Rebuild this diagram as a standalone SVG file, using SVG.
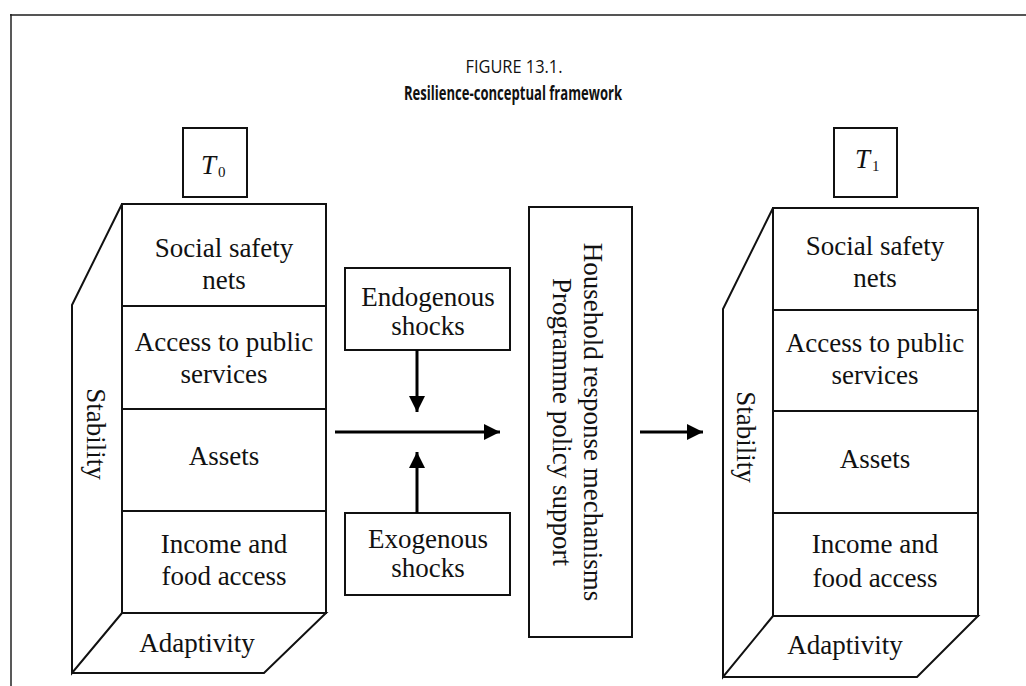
<svg xmlns="http://www.w3.org/2000/svg" width="1026" height="686" viewBox="0 0 1026 686">
<style>
.box{fill:none;stroke:#111;stroke-width:2}
.t{font-family:"Liberation Serif","Times New Roman",serif;font-size:27px;fill:#111;text-anchor:middle}
.ti{font-family:"Liberation Serif","Times New Roman",serif;font-style:italic;font-size:27px;fill:#111}
.sub{font-family:"Liberation Serif","Times New Roman",serif;font-size:15px;fill:#111}
.title{font-family:"Open Sans","Noto Sans",sans-serif;font-size:19px;fill:#111;text-anchor:middle}
.arr{stroke:#000;stroke-width:3;fill:none}
</style>
<defs>
<marker id="ah" markerUnits="userSpaceOnUse" markerWidth="16" markerHeight="16" refX="16" refY="8" orient="auto">
<path d="M0,0 L16,8 L0,16 z" fill="#000"/>
</marker>
</defs>
<g id="frame">
<line x1="10" y1="15" x2="1026" y2="15" stroke="#555" stroke-width="2"/>
<line x1="11" y1="14" x2="11" y2="686" stroke="#222" stroke-width="1.5"/>
</g>
<g id="title">
<text class="title" x="514" y="73" textLength="97" lengthAdjust="spacingAndGlyphs">FIGURE 13.1.</text>
<text class="title" x="513" y="100" font-weight="bold" textLength="218" lengthAdjust="spacingAndGlyphs">Resilience-conceptual framework</text>
</g>
<g id="t0">
<rect class="box" x="183" y="128" width="64" height="69"/>
<text class="ti" x="201" y="174">T</text><text class="sub" x="218" y="177">0</text>
</g>
<g id="stack-left">
<path class="box" d="M122,204 L72,305 L72,673 L122,613"/>
<path class="box" d="M122,613 L326,613 L264,673 L72,673"/>
<rect class="box" x="122" y="204" width="204" height="409"/>
<line class="box" x1="122" y1="306" x2="326" y2="306"/>
<line class="box" x1="122" y1="409" x2="326" y2="409"/>
<line class="box" x1="122" y1="511" x2="326" y2="511"/>
<text class="t" x="224" y="257">Social safety</text>
<text class="t" x="224" y="289">nets</text>
<text class="t" x="224" y="351">Access to public</text>
<text class="t" x="224" y="383">services</text>
<text class="t" x="224" y="465">Assets</text>
<text class="t" x="224" y="553">Income and</text>
<text class="t" x="224" y="585">food access</text>
<text class="t" x="197" y="652">Adaptivity</text>
<text class="t" transform="translate(87,434) rotate(90)">Stability</text>
</g>
<g id="endogenous">
<rect class="box" x="345" y="268" width="165" height="82"/>
<text class="t" x="428" y="306">Endogenous</text>
<text class="t" x="428" y="335">shocks</text>
</g>
<g id="exogenous">
<rect class="box" x="345" y="513" width="165" height="82"/>
<text class="t" x="428" y="548">Exogenous</text>
<text class="t" x="428" y="577">shocks</text>
</g>
<g id="response">
<rect class="box" x="529" y="207" width="103" height="430"/>
<text class="t" transform="translate(584,422) rotate(90)">Household response mechanisms</text>
<text class="t" transform="translate(553,422) rotate(90)">Programme policy support</text>
</g>
<g id="t1">
<rect class="box" x="834" y="128" width="63" height="69"/>
<text class="ti" x="855" y="168">T</text><text class="sub" x="872" y="171">1</text>
</g>
<g id="stack-right">
<path class="box" d="M773,208 L723,309 L723,677 L773,616"/>
<path class="box" d="M773,616 L978,616 L917,677 L723,677"/>
<rect class="box" x="773" y="208" width="205" height="408"/>
<line class="box" x1="773" y1="310" x2="978" y2="310"/>
<line class="box" x1="773" y1="411" x2="978" y2="411"/>
<line class="box" x1="773" y1="513" x2="978" y2="513"/>
<text class="t" x="875" y="255">Social safety</text>
<text class="t" x="875" y="287">nets</text>
<text class="t" x="875" y="352">Access to public</text>
<text class="t" x="875" y="384">services</text>
<text class="t" x="875" y="468">Assets</text>
<text class="t" x="875" y="553">Income and</text>
<text class="t" x="875" y="587">food access</text>
<text class="t" x="845" y="654">Adaptivity</text>
<text class="t" transform="translate(737,437) rotate(90)">Stability</text>
</g>
<g id="connectors">
<line class="arr" x1="417" y1="350" x2="417" y2="412" marker-end="url(#ah)"/>
<line class="arr" x1="417" y1="513" x2="417" y2="452" marker-end="url(#ah)"/>
<line class="arr" x1="335" y1="432" x2="500" y2="432" marker-end="url(#ah)"/>
<line class="arr" x1="640" y1="432" x2="703" y2="432" marker-end="url(#ah)"/>
</g>
</svg>
